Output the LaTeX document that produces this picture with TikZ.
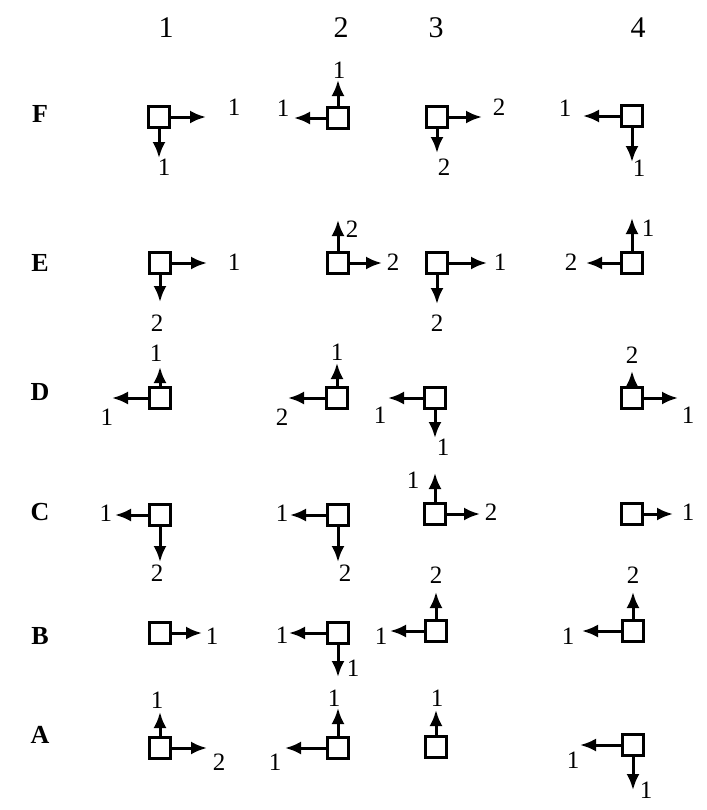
\documentclass[tikz,border=0pt]{standalone}
\usepackage{fontspec}
\setmainfont{Liberation Serif}
\usepackage{tikz}
\usetikzlibrary{arrows.meta}

\tikzset{
  cell/.style={draw,line width=1.6pt,minimum size=10.5pt,inner sep=0pt},
  flow/.style={line width=1.5pt,-{Latex[length=8pt,width=6.5pt]}},
  num/.style={font=\fontsize{12.5}{14}\selectfont,inner sep=0pt},
  head/.style={font=\fontsize{15}{18}\selectfont,inner sep=0pt},
  rowlab/.style={font=\fontsize{13}{15}\selectfont\bfseries,inner sep=0pt}
}

\begin{document}
\begin{tikzpicture}[x=0.5pt,y=-0.5pt]

\useasboundingbox (0,0) rectangle (707,810);

% column and row headings
\node[head] (h1) at (166,28) {1};
\node[head] (h2) at (341,28) {2};
\node[head] (h3) at (436,28) {3};
\node[head] (h4) at (638,28) {4};

\node[rowlab] (rF) at (40,114) {F};
\node[rowlab] (rE) at (40,263) {E};
\node[rowlab] (rD) at (40,392) {D};
\node[rowlab] (rC) at (40,512) {C};
\node[rowlab] (rB) at (40,636) {B};
\node[rowlab] (rA) at (40,735) {A};

% --- Row F ---
\node[cell] (F1) at (159,117) {};
\coordinate (F1e) at (206,117); \coordinate (F1s) at (159,158);
\draw[flow] (F1) -- (F1e); \draw[flow] (F1) -- (F1s);
\node[num] (F1el) at (234,107) {1}; \node[num] (F1sl) at (164,167) {1};

\node[cell] (F2) at (338,118) {};
\coordinate (F2n) at (338,80); \coordinate (F2w) at (294,118);
\draw[flow] (F2) -- (F2n); \draw[flow] (F2) -- (F2w);
\node[num] (F2nl) at (339,70) {1}; \node[num] (F2wl) at (283,108) {1};

\node[cell] (F3) at (437,117) {};
\coordinate (F3e) at (482,117); \coordinate (F3s) at (437,153);
\draw[flow] (F3) -- (F3e); \draw[flow] (F3) -- (F3s);
\node[num] (F3el) at (499,107) {2}; \node[num] (F3sl) at (444,167) {2};

\node[cell] (F4) at (632,116) {};
\coordinate (F4w) at (583,116); \coordinate (F4s) at (632,162);
\draw[flow] (F4) -- (F4w); \draw[flow] (F4) -- (F4s);
\node[num] (F4wl) at (565,108) {1}; \node[num] (F4sl) at (639,168) {1};

% --- Row E ---
\node[cell] (E1) at (160,263) {};
\coordinate (E1e) at (207,263); \coordinate (E1s) at (160,302);
\draw[flow] (E1) -- (E1e); \draw[flow] (E1) -- (E1s);
\node[num] (E1el) at (234,262) {1}; \node[num] (E1sl) at (157,323) {2};

\node[cell] (E2) at (338,263) {};
\coordinate (E2n) at (338,220); \coordinate (E2e) at (382,263);
\draw[flow] (E2) -- (E2n); \draw[flow] (E2) -- (E2e);
\node[num] (E2nl) at (352,229) {2}; \node[num] (E2el) at (393,262) {2};

\node[cell] (E3) at (437,263) {};
\coordinate (E3e) at (487,263); \coordinate (E3s) at (437,304);
\draw[flow] (E3) -- (E3e); \draw[flow] (E3) -- (E3s);
\node[num] (E3el) at (500,262) {1}; \node[num] (E3sl) at (437,323) {2};

\node[cell] (E4) at (632,263) {};
\coordinate (E4n) at (632,218); \coordinate (E4w) at (586,263);
\draw[flow] (E4) -- (E4n); \draw[flow] (E4) -- (E4w);
\node[num] (E4nl) at (648,228) {1}; \node[num] (E4wl) at (571,262) {2};

% --- Row D ---
\node[cell] (D1) at (160,398) {};
\coordinate (D1n) at (160,367); \coordinate (D1w) at (112,398);
\draw[flow] (D1) -- (D1n); \draw[flow] (D1) -- (D1w);
\node[num] (D1nl) at (156,353) {1}; \node[num] (D1wl) at (107,417) {1};

\node[cell] (D2) at (337,398) {};
\coordinate (D2n) at (337,363); \coordinate (D2w) at (288,398);
\draw[flow] (D2) -- (D2n); \draw[flow] (D2) -- (D2w);
\node[num] (D2nl) at (337,352) {1}; \node[num] (D2wl) at (282,417) {2};

\node[cell] (D3) at (435,398) {};
\coordinate (D3w) at (388,398); \coordinate (D3s) at (435,438);
\draw[flow] (D3) -- (D3w); \draw[flow] (D3) -- (D3s);
\node[num] (D3wl) at (380,415) {1}; \node[num] (D3sl) at (443,447) {1};

\node[cell] (D4) at (632,398) {};
\coordinate (D4n) at (632,371); \coordinate (D4e) at (678,398);
\draw[flow] (D4) -- (D4n); \draw[flow] (D4) -- (D4e);
\node[num] (D4nl) at (632,355) {2}; \node[num] (D4el) at (688,415) {1};

% --- Row C ---
\node[cell] (C1) at (160,515) {};
\coordinate (C1w) at (115,515); \coordinate (C1s) at (160,562);
\draw[flow] (C1) -- (C1w); \draw[flow] (C1) -- (C1s);
\node[num] (C1wl) at (106,513) {1}; \node[num] (C1sl) at (157,573) {2};

\node[cell] (C2) at (338,515) {};
\coordinate (C2w) at (290,515); \coordinate (C2s) at (338,562);
\draw[flow] (C2) -- (C2w); \draw[flow] (C2) -- (C2s);
\node[num] (C2wl) at (282,513) {1}; \node[num] (C2sl) at (345,573) {2};

\node[cell] (C3) at (435,514) {};
\coordinate (C3n) at (435,473); \coordinate (C3e) at (480,514);
\draw[flow] (C3) -- (C3n); \draw[flow] (C3) -- (C3e);
\node[num] (C3nl) at (413,480) {1}; \node[num] (C3el) at (491,512) {2};

\node[cell] (C4) at (632,514) {};
\coordinate (C4e) at (673,514);
\draw[flow] (C4) -- (C4e);
\node[num] (C4el) at (688,512) {1};

% --- Row B ---
\node[cell] (B1) at (160,633) {};
\coordinate (B1e) at (202,633);
\draw[flow] (B1) -- (B1e);
\node[num] (B1el) at (212,636) {1};

\node[cell] (B2) at (338,633) {};
\coordinate (B2w) at (289,633); \coordinate (B2s) at (338,677);
\draw[flow] (B2) -- (B2w); \draw[flow] (B2) -- (B2s);
\node[num] (B2wl) at (282,635) {1}; \node[num] (B2sl) at (353,668) {1};

\node[cell] (B3) at (436,631) {};
\coordinate (B3n) at (436,592); \coordinate (B3w) at (390,631);
\draw[flow] (B3) -- (B3n); \draw[flow] (B3) -- (B3w);
\node[num] (B3nl) at (436,575) {2}; \node[num] (B3wl) at (381,636) {1};

\node[cell] (B4) at (633,631) {};
\coordinate (B4n) at (633,592); \coordinate (B4w) at (582,631);
\draw[flow] (B4) -- (B4n); \draw[flow] (B4) -- (B4w);
\node[num] (B4nl) at (633,575) {2}; \node[num] (B4wl) at (568,636) {1};

% --- Row A ---
\node[cell] (A1) at (160,748) {};
\coordinate (A1n) at (160,712); \coordinate (A1e) at (207,748);
\draw[flow] (A1) -- (A1n); \draw[flow] (A1) -- (A1e);
\node[num] (A1nl) at (157,700) {1}; \node[num] (A1el) at (219,762) {2};

\node[cell] (A2) at (338,748) {};
\coordinate (A2n) at (338,708); \coordinate (A2w) at (285,748);
\draw[flow] (A2) -- (A2n); \draw[flow] (A2) -- (A2w);
\node[num] (A2nl) at (334,698) {1}; \node[num] (A2wl) at (275,762) {1};

\node[cell] (A3) at (436,747) {};
\coordinate (A3n) at (436,710);
\draw[flow] (A3) -- (A3n);
\node[num] (A3nl) at (437,698) {1};

\node[cell] (A4) at (633,745) {};
\coordinate (A4w) at (580,745); \coordinate (A4s) at (633,790);
\draw[flow] (A4) -- (A4w); \draw[flow] (A4) -- (A4s);
\node[num] (A4wl) at (573,760) {1}; \node[num] (A4sl) at (646,790) {1};

\end{tikzpicture}
\end{document}
